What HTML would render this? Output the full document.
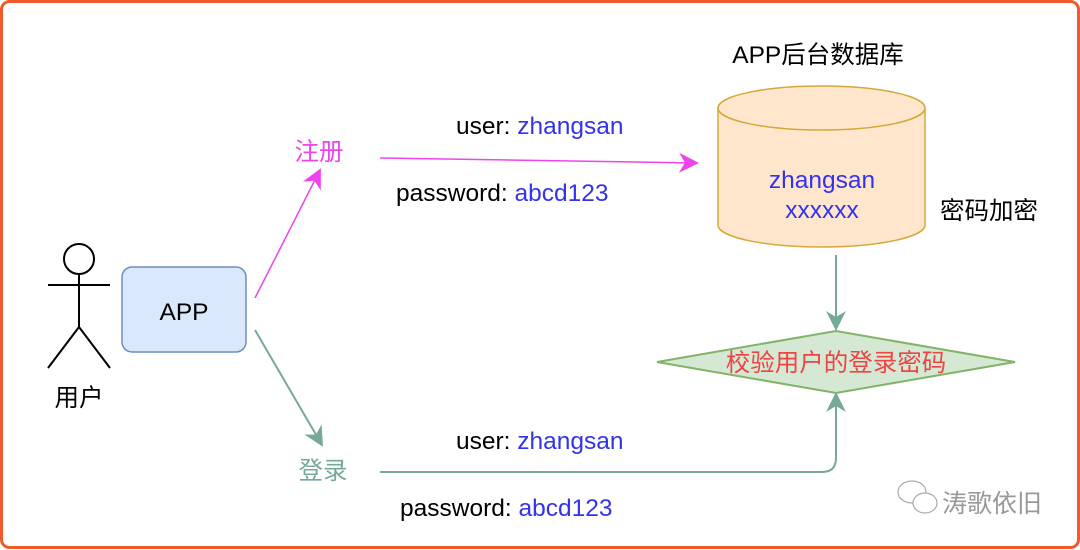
<!DOCTYPE html>
<html><head><meta charset="utf-8"><style>
html,body{margin:0;padding:0;background:#fff;}
svg{display:block;font-family:"Liberation Sans","Noto Sans CJK SC",sans-serif;}
</style></head><body>
<svg width="1080" height="550" viewBox="0 0 1080 550">
<defs>
<marker id="gr" viewBox="0 0 10 10" refX="9" refY="5" markerWidth="20" markerHeight="20" orient="auto" markerUnits="userSpaceOnUse"><path d="M0,0 L10,5 L0,10 L3,5 z" fill="#76a99a"/></marker>
<marker id="mg2" viewBox="0 0 10 10" refX="9" refY="5" markerWidth="20" markerHeight="20" orient="auto" markerUnits="userSpaceOnUse"><path d="M0,0 L10,5 L0,10 L3,5 z" fill="#ee44ee"/></marker>
</defs>
<rect x="1.5" y="1.5" width="1077" height="546" rx="8" fill="#fff" stroke="#f05a2a" stroke-width="3"/>
<g stroke="#000" stroke-width="2" fill="none">
<circle cx="79" cy="259" r="15"/>
<line x1="79" y1="274" x2="79" y2="327"/>
<line x1="48" y1="285" x2="110" y2="285"/>
<line x1="79" y1="327" x2="48" y2="368"/>
<line x1="79" y1="327" x2="110" y2="368"/>
</g>
<g font-size="24.5">
<text x="79" y="406" text-anchor="middle" fill="#000">用户</text>
<rect x="122" y="267" width="124" height="85" rx="10" fill="#dae8fc" stroke="#6c8ebf" stroke-width="1.5"/>
<text x="184" y="320" text-anchor="middle" fill="#000">APP</text>
<line x1="255" y1="298" x2="320" y2="170" stroke="#ee44ee" stroke-width="1.5" marker-end="url(#mg2)"/>
<line x1="255" y1="330" x2="322" y2="445" stroke="#76a99a" stroke-width="2" marker-end="url(#gr)"/>
<text x="319" y="160" text-anchor="middle" fill="#ee44ee">注册</text>
<text x="323" y="479" text-anchor="middle" fill="#76a99a">登录</text>
<line x1="380" y1="158" x2="697" y2="163" stroke="#ee44ee" stroke-width="1.5" marker-end="url(#mg2)"/>
<text x="456" y="134" fill="#000">user: <tspan fill="#3333ee">zhangsan</tspan></text>
<text x="396" y="201" fill="#000">password: <tspan fill="#3333ee">abcd123</tspan></text>
<text x="818" y="63" text-anchor="middle" fill="#000">APP后台数据库</text>
<path d="M718,108 L718,225 A103.5,22 0 0 0 925,225 L925,108" fill="#ffe6cc" stroke="#d6a838" stroke-width="1.5"/>
<ellipse cx="821.5" cy="108" rx="103.5" ry="22" fill="#ffe6cc" stroke="#d6a838" stroke-width="1.5"/>
<text x="822" y="188" text-anchor="middle" fill="#3333ee">zhangsan</text>
<text x="822" y="218" text-anchor="middle" fill="#3333ee">xxxxxx</text>
<text x="989" y="219" text-anchor="middle" fill="#000">密码加密</text>
<line x1="836" y1="255" x2="836" y2="329" stroke="#76a99a" stroke-width="2" marker-end="url(#gr)"/>
<polygon points="657,362 836,331 1015,362 836,393" fill="#d5e8d4" stroke="#82b366" stroke-width="2"/>
<text x="836" y="371" text-anchor="middle" fill="#ee4444">校验用户的登录密码</text>
<path d="M380,472 L822,472 Q836,472 836,458 L836,394" fill="none" stroke="#76a99a" stroke-width="2" marker-end="url(#gr)"/>
<text x="456" y="449" fill="#000">user: <tspan fill="#3333ee">zhangsan</tspan></text>
<text x="400" y="516" fill="#000">password: <tspan fill="#3333ee">abcd123</tspan></text>
</g>
<g fill="none" stroke="#aaa" stroke-width="1.2">
<ellipse cx="912" cy="492" rx="14" ry="11"/>
<ellipse cx="925" cy="503" rx="12" ry="10" fill="#fff"/>
</g>
<text x="992" y="512" font-size="25" text-anchor="middle" fill="#999">涛歌依旧</text>
</svg>
</body></html>
